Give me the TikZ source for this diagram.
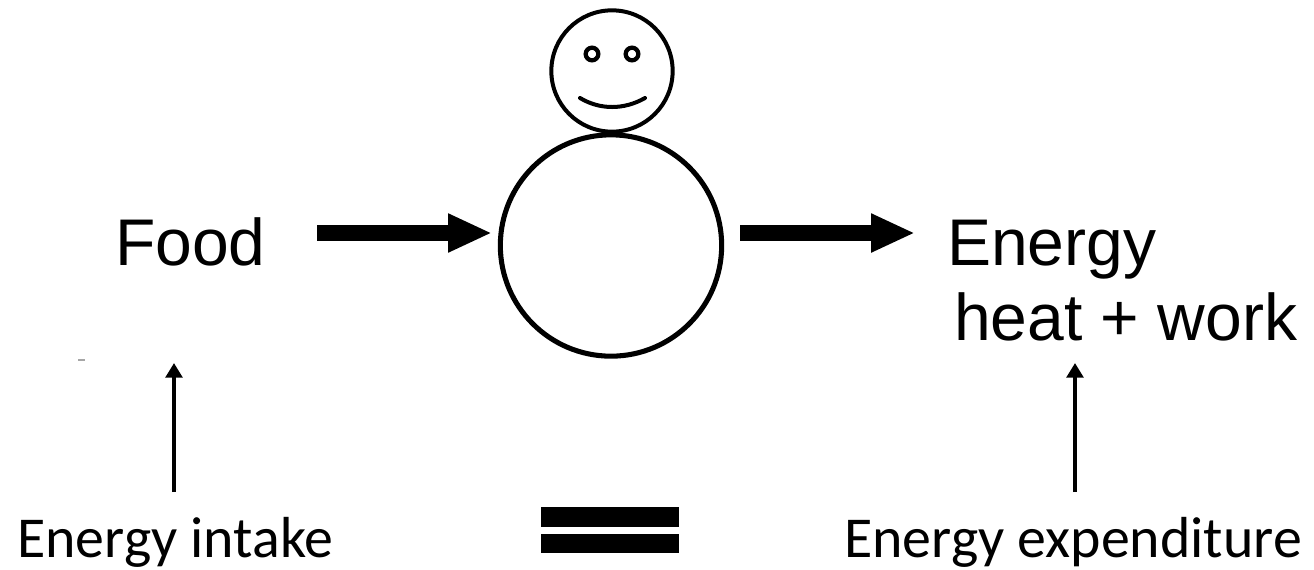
\documentclass[tikz,border=0pt]{standalone}
\usepackage{fontspec}
\setmainfont{Liberation Sans}
\newfontfamily\calibrilike{Carlito}
\usetikzlibrary{arrows.meta}
\tikzset{
  contorno/.style={circle, draw=black, fill=white, inner sep=0pt},
  rotulo/.style={anchor=base west, inner sep=0pt, font=\fontsize{49.5}{49.5}\selectfont},
  legenda/.style={anchor=base west, inner sep=0pt, font=\calibrilike\fontsize{43.4}{43.4}\selectfont},
  grossa/.style={-{Triangle[length=33pt, width=27pt]}, line width=12pt},
  fina/.style={-{Triangle[length=11pt, width=12.5pt]}, line width=3pt},
  barra/.style={fill=black},
}
\begin{document}
\begin{tikzpicture}[x=0.75pt, y=-0.75pt]
  \useasboundingbox (0,0) rectangle (1314,569);

  % ---------------- boneco ----------------
  \node[contorno, line width=3.8pt, minimum size=166pt] (corpo) at (611,245.5) {};
  \node[contorno, line width=3pt, fill=none, minimum size=91pt] (cabeca) at (612,71) {};
  \node[contorno, line width=3.2pt, minimum size=9.5pt] (olhoesq) at (592,54) {};
  \node[contorno, line width=3.2pt, minimum size=9.5pt] (olhodir) at (632,54) {};
  \draw[line width=3pt, line cap=round] (580,98) .. controls (600,110) and (624,110) .. (645,98);

  % ---------------- textos ----------------
  \node[rotulo] (comida) at (115,265) {Food};
  \node[rotulo] (energia) at (947,265) {Energy};
  \node[rotulo] (calor) at (954,340) {heat + work};
  \node[legenda] (ingestao) at (17,557) {Energy intake};
  \node[legenda] (gasto) at (844,557) {Energy expenditure};

  % ---------------- setas ----------------
  \coordinate (entrada) at (317,233);
  \coordinate (chegada) at (492,233);
  \coordinate (saida) at (740,233);
  \coordinate (fim) at (915,233);
  \draw[grossa] (entrada) -- (chegada);
  \draw[grossa] (saida) -- (fim);
  \coordinate (ingestaobase) at (174,492);
  \coordinate (ingestaotopo) at (174,363);
  \coordinate (gastobase) at (1075,492);
  \coordinate (gastotopo) at (1075,363);
  \draw[fina] (ingestaobase) -- (ingestaotopo);
  \draw[fina] (gastobase) -- (gastotopo);

  % ---------------- igual ----------------
  \fill[barra] (541,507) rectangle (679,527);
  \fill[barra] (541,534) rectangle (679,553);

  % mancha
  \fill[black!35] (78,359) rectangle (85,361);
\end{tikzpicture}
\end{document}
